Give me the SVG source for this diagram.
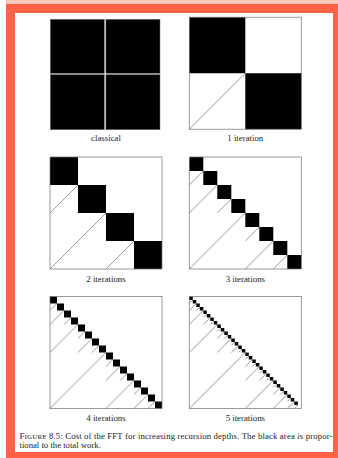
<svg xmlns="http://www.w3.org/2000/svg" width="338" height="458" viewBox="0 0 338 458">
<style>
.frame{fill:none;stroke:#707070;stroke-width:0.7}
.blk{fill:#000}
.cl{fill:#000;stroke:#707070;stroke-width:0.5}
.diag{fill:none;stroke:#6e6e6e;stroke-width:0.7}
.lbl{font-family:"Liberation Serif","Times New Roman",serif;font-size:8.8px;fill:#222;text-anchor:middle}
.cap{font-family:"Liberation Serif","Times New Roman",serif;font-size:8.7px;fill:#222}
</style>
<rect x="0" y="0" width="338" height="458" fill="#fff"/>
<rect x="6" y="0" width="332" height="4" fill="#f9c6b8"/>
<rect x="6" y="4" width="332" height="454" fill="#ff6347"/>
<rect x="15" y="13" width="318" height="439" fill="#fff"/>

<g id="classical">
<rect class="cl" x="50.3" y="19.3" width="54" height="54"/>
<rect class="cl" x="105.9" y="19.3" width="54.1" height="54"/>
<rect class="cl" x="50.3" y="74.6" width="54" height="55.1"/>
<rect class="cl" x="105.9" y="74.6" width="54.1" height="55.1"/>
<text class="lbl" x="106" y="141.3">classical</text>
</g>

<g id="iter1" transform="translate(189.3,17.2)">
<path class="blk" d="M0 0h56v56h56v56h-56v-56h-56z"/>
<path class="diag" d="M0 112L56 56"/>
<rect class="frame" x="0" y="0" width="112" height="112"/>
<text class="lbl" x="56" y="124.1">1 iteration</text>
</g>

<g id="iter2" transform="translate(50,157)">
<path class="blk" d="M0 0h28v28h28v28h28v28h28v28h-28v-28h-28v-28h-28v-28h-28z"/>
<path class="diag" d="M0 112L56 56M0 56L28 28M56 112L84 84"/>
<rect class="frame" x="0" y="0" width="112" height="112"/>
<text class="lbl" x="56" y="124.5">2 iterations</text>
</g>

<g id="iter3" transform="translate(189.3,157)">
<path class="blk" d="M0 0h14v14h14v14h14v14h14v14h14v14h14v14h14v14h14v14h-14v-14h-14v-14h-14v-14h-14v-14h-14v-14h-14v-14h-14v-14h-14z"/>
<path class="diag" d="M0 112L56 56M0 56L28 28M56 112L84 84M0 28L14 14M28 56L42 42M56 84L70 70M84 112L98 98"/>
<rect class="frame" x="0" y="0" width="112" height="112"/>
<text class="lbl" x="56" y="124.5">3 iterations</text>
</g>

<g id="iter4" transform="translate(50,296.5)">
<path class="blk" d="M0 0h7v7h7v7h7v7h7v7h7v7h7v7h7v7h7v7h7v7h7v7h7v7h7v7h7v7h7v7h7v7h7v7h-7v-7h-7v-7h-7v-7h-7v-7h-7v-7h-7v-7h-7v-7h-7v-7h-7v-7h-7v-7h-7v-7h-7v-7h-7v-7h-7v-7h-7v-7h-7v-7h-7z"/>
<path class="diag" d="M0 112L56 56M0 56L28 28M56 112L84 84M0 28L14 14M28 56L42 42M56 84L70 70M84 112L98 98M0 14L7 7M14 28L21 21M28 42L35 35M42 56L49 49M56 70L63 63M70 84L77 77M84 98L91 91M98 112L105 105"/>
<rect class="frame" x="0" y="0" width="112" height="112"/>
<text class="lbl" x="56" y="124">4 iterations</text>
</g>

<g id="iter5" transform="translate(189.3,296.5)">
<path class="blk" d="M0 0h3.5v3.5h3.5v3.5h3.5v3.5h3.5v3.5h3.5v3.5h3.5v3.5h3.5v3.5h3.5v3.5h3.5v3.5h3.5v3.5h3.5v3.5h3.5v3.5h3.5v3.5h3.5v3.5h3.5v3.5h3.5v3.5h3.5v3.5h3.5v3.5h3.5v3.5h3.5v3.5h3.5v3.5h3.5v3.5h3.5v3.5h3.5v3.5h3.5v3.5h3.5v3.5h3.5v3.5h3.5v3.5h3.5v3.5h3.5v3.5h3.5v3.5h-3.5v-3.5h-3.5v-3.5h-3.5v-3.5h-3.5v-3.5h-3.5v-3.5h-3.5v-3.5h-3.5v-3.5h-3.5v-3.5h-3.5v-3.5h-3.5v-3.5h-3.5v-3.5h-3.5v-3.5h-3.5v-3.5h-3.5v-3.5h-3.5v-3.5h-3.5v-3.5h-3.5v-3.5h-3.5v-3.5h-3.5v-3.5h-3.5v-3.5h-3.5v-3.5h-3.5v-3.5h-3.5v-3.5h-3.5v-3.5h-3.5v-3.5h-3.5v-3.5h-3.5v-3.5h-3.5v-3.5h-3.5v-3.5h-3.5v-3.5h-3.5z"/>
<path class="diag" d="M0 112L56 56M0 56L28 28M56 112L84 84M0 28L14 14M28 56L42 42M56 84L70 70M84 112L98 98M0 14L7 7M14 28L21 21M28 42L35 35M42 56L49 49M56 70L63 63M70 84L77 77M84 98L91 91M98 112L105 105M0 7L3.5 3.5M7 14L10.5 10.5M14 21L17.5 17.5M21 28L24.5 24.5M28 35L31.5 31.5M35 42L38.5 38.5M42 49L45.5 45.5M49 56L52.5 52.5M56 63L59.5 59.5M63 70L66.5 66.5M70 77L73.5 73.5M77 84L80.5 80.5M84 91L87.5 87.5M91 98L94.5 94.5M98 105L101.5 101.5M105 112L108.5 108.5"/>
<rect class="frame" x="0" y="0" width="112" height="112"/>
<text class="lbl" x="56" y="124">5 iterations</text>
</g>

<g id="caption">
<text class="cap" x="19.5" y="439.3" textLength="313" lengthAdjust="spacing">F<tspan font-size="7">IGURE</tspan> 8.5: Cost of the FFT for increasing recursion depths. The black area is propor-</text>
<text class="cap" x="19.5" y="448.3">tional to the total work.</text>
</g>
</svg>
